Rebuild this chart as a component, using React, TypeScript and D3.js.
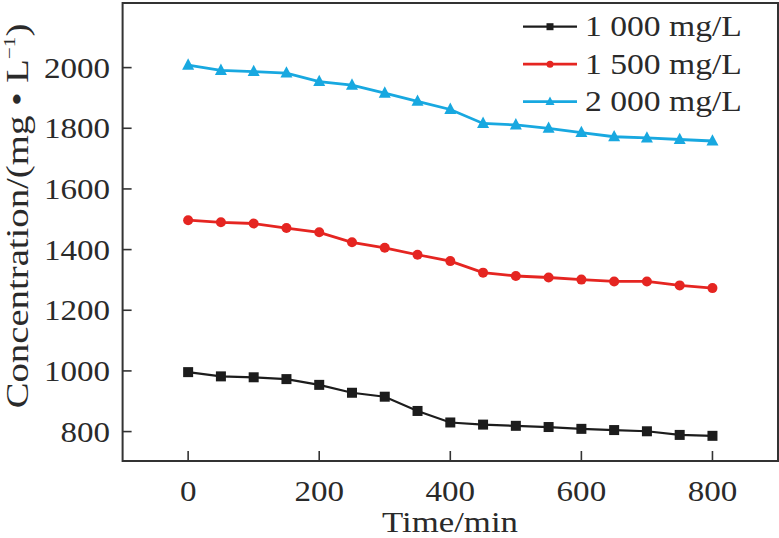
import React from "react";
import * as d3 from "d3";

const times = [0, 50, 100, 150, 200, 250, 300, 350, 400, 450, 500, 550, 600, 650, 700, 750, 800];
const s1000 = [996, 982, 979, 973, 954, 928, 915, 868, 830, 823, 819, 815, 809, 805, 801, 789, 786];
const s1500 = [1497, 1490, 1486, 1471, 1457, 1424, 1406, 1383, 1362, 1324, 1313, 1308, 1301, 1295, 1295, 1282, 1273];
const s2000 = [2008, 1991, 1987, 1982, 1954, 1942, 1916, 1889, 1862, 1816, 1811, 1800, 1786, 1772, 1768, 1763, 1758];
const seriesNames = ["1 000 mg/L", "1 500 mg/L", "2 000 mg/L"];
const xTicks = [0, 200, 400, 600, 800];
const yTicks = [800, 1000, 1200, 1400, 1600, 1800, 2000];

const W = 779;
const H = 538;
const L = 122.6, R = 778, T = 3, B = 461;
const FONT = "'Liberation Serif', 'Times New Roman', serif";
const SX = 1.14;

export default function App() {
  const x = d3.scaleLinear().domain([-100, 900]).range([L, R]);
  const y = d3.scaleLinear().domain([703, 2213]).range([B, T]);
  const line = d3
    .line<number>()
    .x((_, i) => x(times[i]))
    .y((d) => y(d));

  const series = [
    { name: seriesNames[0], data: s1000, color: "#1c1c1c", shape: "square", lw: 2.2 },
    { name: seriesNames[1], data: s1500, color: "#e52521", shape: "circle", lw: 2.8 },
    { name: seriesNames[2], data: s2000, color: "#18a8e0", shape: "triangle", lw: 2.8 },
  ];

  const marker = (shape: string, cx: number, cy: number, color: string, s: number, key?: any) => {
    if (shape === "square")
      return <rect key={key} x={cx - s / 2} y={cy - s / 2} width={s} height={s} fill={color} />;
    if (shape === "circle") return <circle key={key} cx={cx} cy={cy} r={s / 2} fill={color} />;
    const h = s * 0.95;
    return (
      <path
        key={key}
        d={`M${cx},${cy - h * 0.6} L${cx + s / 2},${cy + h * 0.4} L${cx - s / 2},${cy + h * 0.4} Z`}
        fill={color}
      />
    );
  };

  const axisColor = "#333";
  const textColor = "#2a2a2a";
  const legendX0 = 523, legendX1 = 577, legendY0 = 26.7, legendDy = 37.5;

  return (
    <svg
      width={W}
      height={H}
      style={{ position: "absolute", left: 0, top: 0, background: "#fff" }}
      fontFamily={FONT}
    >
      <rect x={0} y={0} width={W} height={H} fill="#fff" />
      {/* series */}
      {series.map((s) => (
        <g key={s.name}>
          <path d={line(s.data) || ""} fill="none" stroke={s.color} strokeWidth={s.lw} />
          {s.data.map((v, i) =>
            marker(s.shape, x(times[i]), y(v), s.color, s.shape === "triangle" ? 12 : 10, i)
          )}
        </g>
      ))}
      {/* frame */}
      <rect x={L} y={T} width={R - L} height={B - T} fill="none" stroke={axisColor} strokeWidth={2} />
      {/* y ticks */}
      {yTicks.map((t) => (
        <g key={t}>
          <line x1={L} x2={L + 9} y1={y(t)} y2={y(t)} stroke={axisColor} strokeWidth={1.6} />
          <text
            transform={`translate(110,${y(t) + 10}) scale(${SX},1)`}
            textAnchor="end"
            fontSize={29}
            fill={textColor}
          >
            {t}
          </text>
        </g>
      ))}
      {/* x ticks */}
      {xTicks.map((t) => (
        <g key={t}>
          <line x1={x(t)} x2={x(t)} y1={B} y2={B - 10} stroke={axisColor} strokeWidth={1.6} />
          <text
            transform={`translate(${x(t)},500.5) scale(${SX},1)`}
            textAnchor="middle"
            fontSize={29}
            fill={textColor}
          >
            {t}
          </text>
        </g>
      ))}
      {/* axis titles */}
      <text
        transform={`translate(450,532) scale(1.14,1)`}
        textAnchor="middle"
        fontSize={30.5}
        fill={textColor}
      >
        Time/min
      </text>
      <text
        transform={`translate(28,216) rotate(-90) scale(1.25,1)`}
        textAnchor="middle"
        fontSize={31}
        fill={textColor}
      >
        Concentration/(mg • L
        <tspan fontSize={17} dy={-13}>−1</tspan>
        <tspan dy={13}>)</tspan>
      </text>
      {/* legend */}
      {series.map((s, i) => {
        const ly = legendY0 + i * legendDy;
        return (
          <g key={s.name}>
            <line x1={legendX0} x2={legendX1} y1={ly} y2={ly} stroke={s.color} strokeWidth={s.lw} />
            {marker(s.shape, (legendX0 + legendX1) / 2, ly, s.color, s.shape === "triangle" ? 9 : 7)}
            <text
              transform={`translate(585,${ly + 9.5}) scale(1.16,1)`}
              fontSize={29}
              fill={textColor}
            >
              {s.name}
            </text>
          </g>
        );
      })}
    </svg>
  );
}
